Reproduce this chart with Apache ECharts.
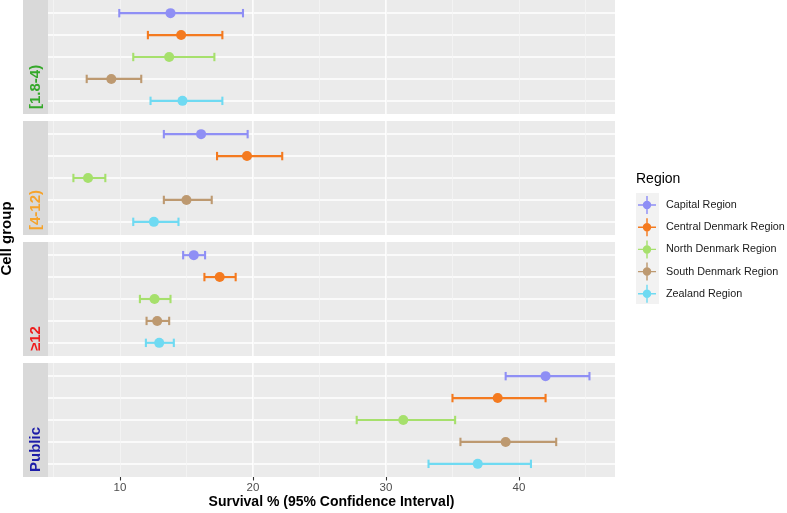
<!DOCTYPE html>
<html>
<head>
<meta charset="utf-8">
<script src="https://cdn.jsdelivr.net/npm/echarts@6/dist/echarts.min.js"></script>
<style>
html,body{margin:0;padding:0;background:#fff;}
#chart{width:787px;height:513px;}
</style>
</head>
<body>
<div id="chart"></div>
<script>
// ---- Data ----
const regions = ['Capital Region', 'Central Denmark Region', 'North Denmark Region', 'South Denmark Region', 'Zealand Region'];
const cellGroups = ['[1.8-4)', '[4-12)', '≥12', 'Public'];
const xTicks = [10, 20, 30, 40];

// survival estimate / lower CI / upper CI per cell group, in region order
const est_1_8_4 = [13.8, 14.6, 13.7, 9.35, 14.7];
const lo_1_8_4  = [9.95, 12.1, 11.0, 7.5, 12.3];
const hi_1_8_4  = [19.25, 17.7, 17.1, 11.6, 17.7];

const est_4_12 = [16.1, 19.55, 7.6, 15.0, 12.55];
const lo_4_12  = [13.3, 17.3, 6.5, 13.3, 11.0];
const hi_4_12  = [19.6, 22.2, 8.9, 16.9, 14.4];

const est_12 = [15.55, 17.5, 12.6, 12.8, 12.95];
const lo_12  = [14.75, 16.35, 11.5, 12.0, 11.95];
const hi_12  = [16.4, 18.7, 13.8, 13.7, 14.05];

const est_public = [42.0, 38.4, 31.3, 39.0, 36.9];
const lo_public  = [39.0, 35.0, 27.8, 35.6, 33.2];
const hi_public  = [45.3, 42.0, 35.2, 42.8, 40.9];

const estimates = [est_1_8_4, est_4_12, est_12, est_public];
const lowers = [lo_1_8_4, lo_4_12, lo_12, lo_public];
const uppers = [hi_1_8_4, hi_4_12, hi_12, hi_public];

// ---- Style ----
const regionColors = ['#8F8FF5', '#F47A1F', '#A6E06C', '#BD9970', '#6FDAF2'];
const groupColors = ['#35A82A', '#F5A32C', '#EE1C1C', '#1C1CA8'];
const panelTops = [0, 121, 242, 363];
const panelH = 114;
const panelLeft = 48, panelRight = 615;
const xMin = 4.59, xMax = 47.22;
const FONT = '"Liberation Sans", Arial, Helvetica, sans-serif';

const chart = echarts.init(document.getElementById('chart'), null, {renderer: 'canvas'});

const grids = [], xAxes = [], yAxes = [], series = [], graphics = [];

cellGroups.forEach((g, gi) => {
  const last = gi === cellGroups.length - 1;
  grids.push({
    left: panelLeft, width: panelRight - panelLeft, top: panelTops[gi], height: panelH,
    show: true, backgroundColor: '#EBEBEB', borderWidth: 0, containLabel: false
  });
  // major axis
  xAxes.push({
    type: 'value', gridIndex: gi, position: 'bottom', min: xMin, max: xMax, minInterval: 10, maxInterval: 10,
    axisLine: {show: false, onZero: false},
    axisTick: {show: last, customValues: xTicks, length: 3.5, lineStyle: {color: '#333333', width: 1.1}},
    axisLabel: {show: last, customValues: xTicks, color: '#4D4D4D', fontSize: 11.5, fontFamily: FONT, margin: 5},
    splitLine: {show: true, showMinLine: false, showMaxLine: false, lineStyle: {color: '#FFFFFF', width: 1.7}},
    name: last ? 'Survival % (95% Confidence Interval)' : '',
    nameLocation: 'middle', nameGap: 17,
    nameTextStyle: {fontSize: 14, fontWeight: 'bold', color: '#000', fontFamily: FONT}
  });
  // minor grid axis
  xAxes.push({
    type: 'value', gridIndex: gi, position: 'bottom', min: xMin, max: xMax, minInterval: 5, maxInterval: 5,
    axisLine: {show: false, onZero: false}, axisTick: {show: false}, axisLabel: {show: false},
    splitLine: {show: true, showMinLine: false, showMaxLine: false, lineStyle: {color: '#F5F5F5', width: 0.8}}
  });
  yAxes.push({
    type: 'value', gridIndex: gi, min: -0.6, max: 4.6, inverse: true, minInterval: 1, maxInterval: 1,
    axisLine: {show: false, onZero: false}, axisTick: {show: false}, axisLabel: {show: false},
    splitLine: {show: true, showMinLine: false, showMaxLine: false, lineStyle: {color: '#FFFFFF', width: 1.7}}
  });
  // strip
  graphics.push({
    type: 'rect', shape: {x: 23, y: panelTops[gi], width: panelLeft - 23, height: panelH},
    style: {fill: '#D9D9D9'}, z: 1
  });
  graphics.push({
    type: 'text', x: 36, y: panelTops[gi] + panelH - 5, rotation: Math.PI / 2,
    style: {text: g, fill: groupColors[gi], font: 'bold 15px ' + FONT, align: 'left', verticalAlign: 'middle'}, z: 2
  });
});

// scatter first (legend colour), then error bars
regions.forEach((r, ri) => {
  cellGroups.forEach((g, gi) => {
    series.push({
      name: r, type: 'scatter', xAxisIndex: gi * 2, yAxisIndex: gi,
      data: [[estimates[gi][ri], ri]], symbol: 'circle', symbolSize: 10,
      itemStyle: {color: regionColors[ri], opacity: 1}, z: 4, silent: true
    });
  });
});
regions.forEach((r, ri) => {
  cellGroups.forEach((g, gi) => {
    const col = regionColors[ri];
    series.push({
      name: r, type: 'custom', xAxisIndex: gi * 2, yAxisIndex: gi,
      data: [[lowers[gi][ri], uppers[gi][ri], ri]],
      encode: {x: [0, 1], y: 2},
      itemStyle: {color: col}, z: 3, silent: true,
      renderItem: function (params, api) {
        const y = api.value(2);
        const p1 = api.coord([api.value(0), y]);
        const p2 = api.coord([api.value(1), y]);
        const h = 4.2;
        const st = {stroke: col, lineWidth: 2.1, fill: null};
        return {
          type: 'group', children: [
            {type: 'line', shape: {x1: p1[0], y1: p1[1], x2: p2[0], y2: p2[1]}, style: st},
            {type: 'line', shape: {x1: p1[0], y1: p1[1] - h, x2: p1[0], y2: p1[1] + h}, style: st},
            {type: 'line', shape: {x1: p2[0], y1: p2[1] - h, x2: p2[0], y2: p2[1] + h}, style: st}
          ]
        };
      }
    });
  });
});

// y title
graphics.push({
  type: 'text', x: 7, y: 238.5, rotation: Math.PI / 2,
  style: {text: 'Cell group', fill: '#000', font: 'bold 15px ' + FONT, align: 'center', verticalAlign: 'middle'}
});
// legend key background
graphics.push({
  type: 'rect', shape: {x: 636, y: 193, width: 23, height: 111}, style: {fill: '#F2F2F2'}, z: 0
});

const iconPath = 'path://M0,9.2L20,9.2L20,10.8L0,10.8Z M9.2,0L10.8,0L10.8,20L9.2,20Z M5.3,10A4.7,4.7 0 1,1 14.7,10A4.7,4.7 0 1,1 5.3,10Z';

chart.setOption({
  animation: false,
  backgroundColor: '#FFFFFF',
  title: {
    text: 'Region', left: 636, top: 172, padding: 0,
    textStyle: {fontSize: 14, fontWeight: 'normal', color: '#000', fontFamily: FONT}
  },
  legend: {
    orient: 'vertical', left: 638, top: 196, padding: 0,
    itemWidth: 18, itemHeight: 18, itemGap: 4.2,
    selectedMode: false,
    data: regions.map(n => ({name: n, icon: iconPath})),
    textStyle: {fontSize: 10.8, color: '#1A1A1A', fontFamily: FONT, padding: [0, 0, 0, 5]}
  },
  grid: grids,
  xAxis: xAxes,
  yAxis: yAxes,
  series: series,
  graphic: graphics
});
</script>
</body>
</html>
